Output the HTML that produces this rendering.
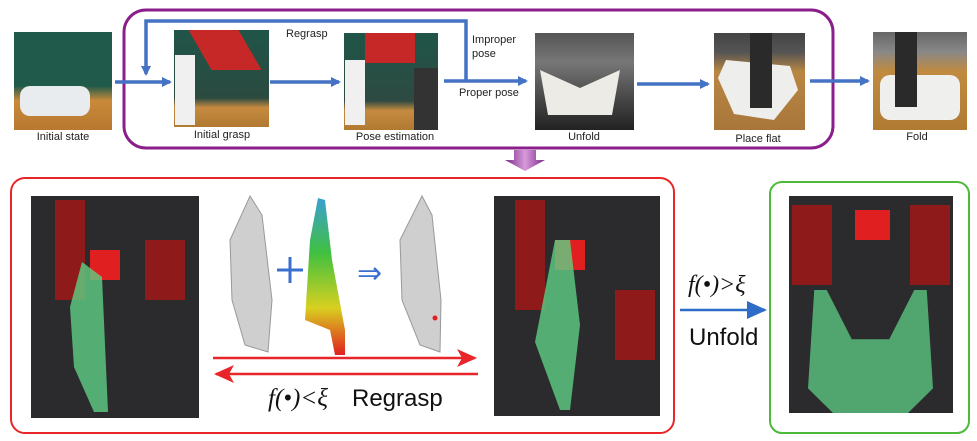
<!DOCTYPE html>
<html><head><style>
body{margin:0;width:977px;height:441px;background:#fff;position:relative;overflow:hidden;font-family:"Liberation Sans",sans-serif}
.a{position:absolute}
.lbl{position:absolute;font-size:11px;color:#222;white-space:nowrap;transform:translateX(-50%)}
.ph{position:absolute}
.dk{background:#2b2b2e}
</style></head><body>
<!-- top photos -->
<div class="ph" style="left:14px;top:32px;width:98px;height:98px;background:linear-gradient(#1f5a4a 0,#1f5a4a 55%,#c98a3a 70%,#b87830 100%)"></div>
<div class="a" style="left:20px;top:86px;width:70px;height:30px;background:#e8ecee;border-radius:10px"></div>
<div class="ph" style="left:174px;top:30px;width:95px;height:97px;background:linear-gradient(#1f5548 0,#2b4a40 70%,#c68a40 80%,#b07a30 100%)"></div>
<div class="a" style="left:175px;top:55px;width:20px;height:70px;background:#f0f0f0"></div>
<div class="a" style="left:200px;top:30px;width:50px;height:40px;background:#c62828;transform:skewX(30deg)"></div>
<div class="ph" style="left:344px;top:33px;width:94px;height:97px;background:linear-gradient(#1f5548 0,#2e4a42 70%,#c68a40 80%,#b07a30 100%)"></div>
<div class="a" style="left:345px;top:60px;width:20px;height:65px;background:#f0f0f0"></div>
<div class="a" style="left:414px;top:68px;width:24px;height:62px;background:#333"></div>
<div class="a" style="left:365px;top:33px;width:50px;height:30px;background:#c62828"></div>
<div class="ph" style="left:535px;top:33px;width:99px;height:97px;background:linear-gradient(#555 0,#777 30%,#444 70%,#222 100%)"></div>
<div class="a" style="left:540px;top:70px;width:80px;height:45px;background:#ecebe6;clip-path:polygon(0 0,50% 40%,100% 0,90% 100%,10% 100%)"></div>
<div class="ph" style="left:714px;top:33px;width:91px;height:97px;background:linear-gradient(#444 0,#555 20%,#b98642 40%,#a8763a 100%)"></div>
<div class="a" style="left:718px;top:60px;width:80px;height:60px;background:#eeeeec;clip-path:polygon(10% 0,90% 10%,100% 50%,70% 100%,20% 90%,0 30%)"></div>
<div class="a" style="left:750px;top:33px;width:22px;height:75px;background:#2a2a2a"></div>
<div class="ph" style="left:873px;top:32px;width:94px;height:98px;background:linear-gradient(#666 0,#888 20%,#c08a40 40%,#b07a32 100%)"></div>
<div class="a" style="left:880px;top:75px;width:80px;height:45px;background:#efefed;border-radius:10px"></div>
<div class="a" style="left:895px;top:32px;width:22px;height:75px;background:#2a2a2a"></div>

<div class="lbl" style="left:63px;top:131px">Initial state</div>
<div class="lbl" style="left:222px;top:129px">Initial grasp</div>
<div class="lbl" style="left:395px;top:131px">Pose estimation</div>
<div class="lbl" style="left:584px;top:131px">Unfold</div>
<div class="lbl" style="left:758px;top:133px">Place flat</div>
<div class="lbl" style="left:917px;top:131px">Fold</div>
<div class="a" style="left:286px;top:28px;font-size:11px;color:#222">Regrasp</div>
<div class="a" style="left:472px;top:33px;font-size:11px;color:#222;line-height:14px">Improper<br>pose</div>
<div class="a" style="left:459px;top:87px;font-size:11px;color:#222">Proper pose</div>

<svg class="a" style="left:0;top:0" width="977" height="441">
<defs>
<marker id="b" markerWidth="10" markerHeight="10" refX="8" refY="5" orient="auto" markerUnits="userSpaceOnUse"><path d="M0,0L10,5L0,10z" fill="#4472c4"/></marker>
<marker id="r" markerWidth="20" markerHeight="18" refX="18" refY="9" orient="auto" markerUnits="userSpaceOnUse"><path d="M0,0L20,9L0,18L5,9z" fill="#e8262a"/></marker>
<marker id="bb" markerWidth="20" markerHeight="18" refX="18" refY="9" orient="auto" markerUnits="userSpaceOnUse"><path d="M0,0L20,9L0,18z" fill="#2f6cc7"/></marker>
<linearGradient id="pg" x1="0" x2="1"><stop offset="0" stop-color="#7a2a8a"/><stop offset="0.5" stop-color="#d79ad9"/><stop offset="1" stop-color="#7a2a8a"/></linearGradient>
<linearGradient id="cg" x1="0" y1="0" x2="0" y2="1"><stop offset="0" stop-color="#3aa0d0"/><stop offset="0.35" stop-color="#40c040"/><stop offset="0.7" stop-color="#d8d020"/><stop offset="1" stop-color="#e02020"/></linearGradient>
</defs>
<rect x="124" y="10" width="709" height="138" rx="22" fill="none" stroke="#8b1e8b" stroke-width="3"/>
<g stroke="#4472c4" stroke-width="3.5" fill="none">
<line x1="115" y1="82" x2="170" y2="82" marker-end="url(#b)"/>
<line x1="270" y1="82" x2="339" y2="82" marker-end="url(#b)"/>
<line x1="444" y1="81" x2="526" y2="81" marker-end="url(#b)"/>
<line x1="637" y1="84" x2="708" y2="84" marker-end="url(#b)"/>
<line x1="810" y1="81" x2="868" y2="81" marker-end="url(#b)"/>
<polyline points="466,81 466,21 146,21 146,74" marker-end="url(#b)"/>
</g>
<path d="M514,150H536V160H545L525,171L505,160H514Z" fill="url(#pg)"/>
<rect x="11" y="178" width="663" height="255" rx="14" fill="none" stroke="#e8262a" stroke-width="2"/>
<rect x="770" y="182" width="199" height="251" rx="12" fill="none" stroke="#4fba3a" stroke-width="2"/>
<!-- shirts -->
<path d="M250,196L262,215L272,300L268,352L245,345L232,300L230,240Z" fill="#cfcfcf" stroke="#999"/>
<path d="M318,198L325,200L332,260L345,330L345,355L335,355L330,330L305,320L310,240Z" fill="url(#cg)"/>
<path d="M422,196L432,215L441,300L440,352L420,345L402,300L400,240Z" fill="#cfcfcf" stroke="#999"/>
<circle cx="435" cy="318" r="2.5" fill="#e02020"/>
<g stroke="#3a6fd0" stroke-width="3"><line x1="290" y1="257" x2="290" y2="283"/><line x1="277" y1="270" x2="303" y2="270"/></g>
<text x="357" y="283" font-size="30" fill="#3a6fd0" font-family="DejaVu Sans">⇒</text>
<line x1="213" y1="358" x2="475" y2="358" stroke="#e8262a" stroke-width="2.5" marker-end="url(#r)"/>
<line x1="478" y1="374" x2="216" y2="374" stroke="#e8262a" stroke-width="2.5" marker-end="url(#r)"/>
<line x1="680" y1="310" x2="765" y2="310" stroke="#2f6cc7" stroke-width="2.5" marker-end="url(#bb)"/>
<text x="268" y="406" font-size="25" font-family="Liberation Serif" font-style="italic" fill="#111">f(•)&lt;ξ</text>
<text x="352" y="406" font-size="24" fill="#111">Regrasp</text>
<text x="688" y="292" font-size="24" font-family="Liberation Serif" font-style="italic" fill="#111">f(•)&gt;ξ</text>
<text x="689" y="345" font-size="24" fill="#111">Unfold</text>
</svg>

<!-- bottom photos -->
<div class="ph dk" style="left:31px;top:196px;width:168px;height:222px"></div>
<div class="a" style="left:90px;top:250px;width:30px;height:30px;background:#e02020"></div>
<div class="a" style="left:55px;top:200px;width:30px;height:100px;background:#8e1a1a"></div>
<div class="a" style="left:145px;top:240px;width:40px;height:60px;background:#8e1a1a"></div>
<div class="a" style="left:70px;top:262px;width:40px;height:150px;background:#5fcf85;opacity:.8;clip-path:polygon(30% 0,80% 10%,95% 100%,60% 100%,10% 70%,0 30%)"></div>
<div class="ph dk" style="left:494px;top:196px;width:166px;height:220px"></div>
<div class="a" style="left:555px;top:240px;width:30px;height:30px;background:#e02020"></div>
<div class="a" style="left:515px;top:200px;width:30px;height:110px;background:#8e1a1a"></div>
<div class="a" style="left:615px;top:290px;width:40px;height:70px;background:#8e1a1a"></div>
<div class="a" style="left:535px;top:240px;width:50px;height:170px;background:#5fcf85;opacity:.8;clip-path:polygon(40% 0,70% 0,90% 50%,70% 100%,50% 100%,0 60%)"></div>
<div class="ph dk" style="left:789px;top:196px;width:164px;height:217px"></div>
<div class="a" style="left:855px;top:210px;width:35px;height:30px;background:#e02020"></div>
<div class="a" style="left:792px;top:205px;width:40px;height:80px;background:#8e1a1a"></div>
<div class="a" style="left:910px;top:205px;width:40px;height:80px;background:#8e1a1a"></div>
<div class="a" style="left:808px;top:290px;width:125px;height:123px;background:#5fcf85;opacity:.75;clip-path:polygon(5% 0,15% 0,35% 40%,65% 40%,85% 0,95% 0,100% 80%,80% 100%,20% 100%,0 80%)"></div>
</body></html>
